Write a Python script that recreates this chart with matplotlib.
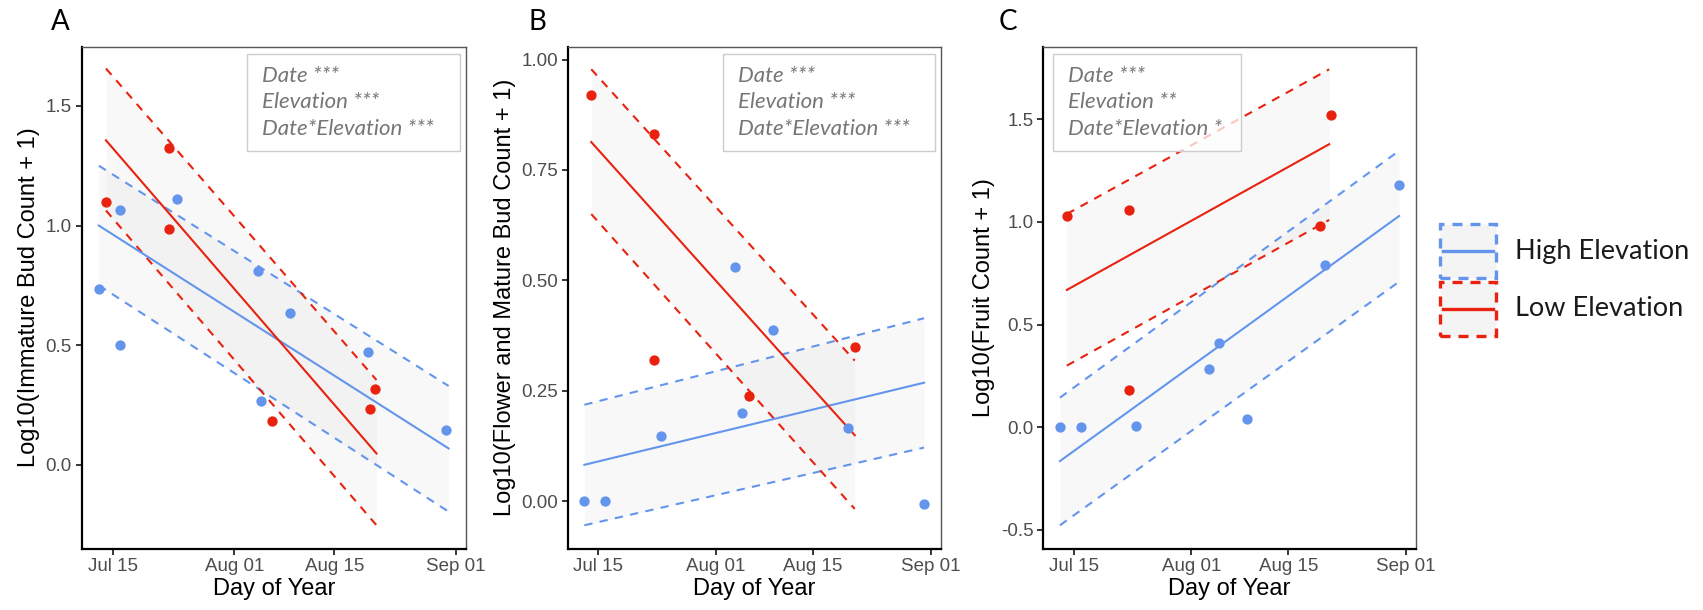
import numpy as np
import matplotlib.pyplot as plt
from matplotlib.patches import Rectangle
from matplotlib.lines import Line2D

# day of year for the x axis
tick_days = [196, 213, 227, 244]
tick_labels = ["Jul 15", "Aug 01", "Aug 15", "Sep 01"]
high_col = "#6495ED"
low_col = "#E8220F"

# ---- A: immature buds ----
a_high_day = [194.0, 197.0, 197.0, 205.0, 216.3, 216.7, 220.8, 231.7, 242.7]
a_high_val = [0.733, 1.065, 0.500, 1.109, 0.810, 0.269, 0.636, 0.470, 0.148]
a_low_day = [195.0, 203.9, 203.9, 218.2, 232.0, 232.7]
a_low_val = [1.099, 1.323, 0.987, 0.182, 0.234, 0.316]
a_high_span = [194.0, 243.0]
a_high_fit = [1.000, 0.069]
a_high_upper = [1.250, 0.330]
a_high_lower = [0.750, -0.195]
a_low_span = [195.0, 232.9]
a_low_fit = [1.356, 0.048]
a_low_upper = [1.656, 0.355]
a_low_lower = [1.063, -0.252]

# ---- B: flowers and mature buds ----
b_high_day = [194.0, 197.0, 205.0, 215.8, 216.7, 221.2, 232.1, 243.0]
b_high_val = [0.000, 0.000, 0.147, 0.531, 0.200, 0.387, 0.165, -0.006]
b_low_day = [195.0, 204.0, 204.0, 217.8, 233.0]
b_low_val = [0.919, 0.831, 0.319, 0.238, 0.349]
b_high_span = [194.0, 243.0]
b_high_fit = [0.082, 0.268]
b_high_upper = [0.218, 0.414]
b_high_lower = [-0.055, 0.121]
b_low_span = [195.0, 233.0]
b_low_fit = [0.813, 0.149]
b_low_upper = [0.978, 0.318]
b_low_lower = [0.650, -0.018]

# ---- C: fruit ----
c_high_day = [194.0, 197.0, 205.0, 215.5, 217.0, 221.0, 232.3, 243.0]
c_high_val = [0.000, 0.000, 0.006, 0.284, 0.411, 0.040, 0.789, 1.180]
c_low_day = [195.0, 204.0, 204.0, 231.6, 233.2]
c_low_val = [1.028, 1.058, 0.180, 0.980, 1.521]
c_high_span = [194.0, 243.0]
c_high_fit = [-0.165, 1.029]
c_high_upper = [0.144, 1.347]
c_high_lower = [-0.478, 0.709]
c_low_span = [195.0, 232.9]
c_low_fit = [0.669, 1.379]
c_low_upper = [1.039, 1.744]
c_low_lower = [0.300, 1.010]

a_stats = ["Date ***", "Elevation ***", "Date*Elevation ***"]
b_stats = ["Date ***", "Elevation ***", "Date*Elevation ***"]
c_stats = ["Date ***", "Elevation **", "Date*Elevation *"]

legend_labels = ["High Elevation", "Low Elevation"]

panels = [
    dict(tag="A", ylabel="Log10(Immature Bud Count + 1)",
         pos=[0.04797, 0.1008, 0.2255, 0.8226], ylim=(-0.349, 1.747),
         yticks=[0.0, 0.5, 1.0, 1.5], yfmt="{:.1f}",
         groups=[(a_high_day, a_high_val, a_high_span, a_high_fit, a_high_upper, a_high_lower, high_col),
                 (a_low_day, a_low_val, a_low_span, a_low_fit, a_low_upper, a_low_lower, low_col)],
         stats=a_stats, box=(0.431, 0.985), tag_x=60.5),
    dict(tag="B", ylabel="Log10(Flower and Mature Bud Count + 1)",
         pos=[0.33335, 0.1008, 0.21903, 0.8226], ylim=(-0.1076, 1.029),
         yticks=[0.0, 0.25, 0.5, 0.75, 1.0], yfmt="{:.2f}",
         groups=[(b_high_day, b_high_val, b_high_span, b_high_fit, b_high_upper, b_high_lower, high_col),
                 (b_low_day, b_low_val, b_low_span, b_low_fit, b_low_upper, b_low_lower, low_col)],
         stats=b_stats, box=(0.417, 0.985), tag_x=537),
    dict(tag="C", ylabel="Log10(Fruit Count + 1)",
         pos=[0.61263, 0.1008, 0.21867, 0.8226], ylim=(-0.591, 1.854),
         yticks=[-0.5, 0.0, 0.5, 1.0, 1.5], yfmt="{:.1f}",
         groups=[(c_high_day, c_high_val, c_high_span, c_high_fit, c_high_upper, c_high_lower, high_col),
                 (c_low_day, c_low_val, c_low_span, c_low_fit, c_low_upper, c_low_lower, low_col)],
         stats=c_stats, box=(0.027, 0.531), tag_x=1008),
]

fig = plt.figure(figsize=(17.03, 6.10), dpi=100)
W, H = 1703.0, 610.0

for p in panels:
    ax = fig.add_axes(p["pos"])
    for day, val, span, fit, up, lo, col in p["groups"]:
        ax.fill_between(span, lo, up, color="#BEBEBE", alpha=0.1, lw=0, zorder=1)
        ax.plot(span, up, color=col, lw=1.5, dashes=(4, 3.5), zorder=2)
        ax.plot(span, lo, color=col, lw=1.5, dashes=(4, 3.5), zorder=2)
        ax.plot(span, fit, color=col, lw=1.5, zorder=3)
        ax.scatter(day, val, s=55, color=col, lw=0, zorder=4)

    ax.set_xlim(191.6, 245.4)
    ax.set_ylim(*p["ylim"])
    ax.set_xticks(tick_days)
    ax.set_xticklabels(tick_labels)
    ax.set_yticks(p["yticks"])
    ax.set_yticklabels([p["yfmt"].format(v) for v in p["yticks"]])
    ax.tick_params(length=4, width=1.1, color="black", labelcolor="#4D4D4D",
                   labelsize=13.5, pad=3)
    for lab in ax.get_xticklabels() + ax.get_yticklabels():
        lab.set_family("Liberation Sans")
    ax.set_xlabel("Day of Year", fontsize=17, family="Liberation Sans", labelpad=2)
    ax.set_ylabel(p["ylabel"], fontsize=17, family="Liberation Sans", labelpad=4)
    for side in ["left", "bottom"]:
        ax.spines[side].set_color("black")
        ax.spines[side].set_linewidth(1.6)
    for side in ["top", "right"]:
        ax.spines[side].set_color("#555555")
        ax.spines[side].set_linewidth(1.0)

    # model terms box
    x0, x1 = p["box"]
    box = Rectangle((x0, 0.792), x1 - x0, 0.9855 - 0.792, transform=ax.transAxes,
                    facecolor="white", alpha=0.75, edgecolor="none", zorder=5)
    ax.add_patch(box)
    ax.add_patch(Rectangle((x0, 0.792), x1 - x0, 0.9855 - 0.792, transform=ax.transAxes,
                           facecolor="none", edgecolor="#CCCCCC", lw=1.0, zorder=6))
    ax_w = p["pos"][2] * W
    ax_h = p["pos"][3] * H
    for i, line in enumerate(p["stats"]):
        yb = 1 - (35.0 + 26.7 * i) / ax_h
        ax.text(x0 + 15.0 / ax_w, yb, line, transform=ax.transAxes,
                fontsize=16, style="italic", family="Lato", color="#767676",
                va="baseline", ha="left", zorder=7)

    fig.text(p["tag_x"] / W, 1 - 21.7 / H, p["tag"], fontsize=20, family="Lato",
             ha="center", va="center")

# legend drawn in figure pixels
for i, (lab, col) in enumerate(zip(legend_labels, [high_col, low_col])):
    top = 224.0 + 58.0 * i
    kx0, kx1 = 1440.0, 1496.0
    kh = 54.0
    fig.patches.append(Rectangle((kx0 / W, 1 - (top + kh) / H), (kx1 - kx0) / W, kh / H,
                                 transform=fig.transFigure, facecolor="#F4F4F4",
                                 edgecolor=col, lw=2.4, linestyle=(0, (3, 2.4))))
    yc = 1 - (top + kh / 2) / H
    fig.lines.append(Line2D([(kx0 + 3) / W, (kx1 - 3) / W], [yc, yc],
                            transform=fig.transFigure, color=col, lw=2.4))
    fig.text(1515 / W, yc, lab, fontsize=19.5, family="Lato", va="center", ha="left",
             color="#1A1A1A")

fig.savefig("out.png", dpi=100)
